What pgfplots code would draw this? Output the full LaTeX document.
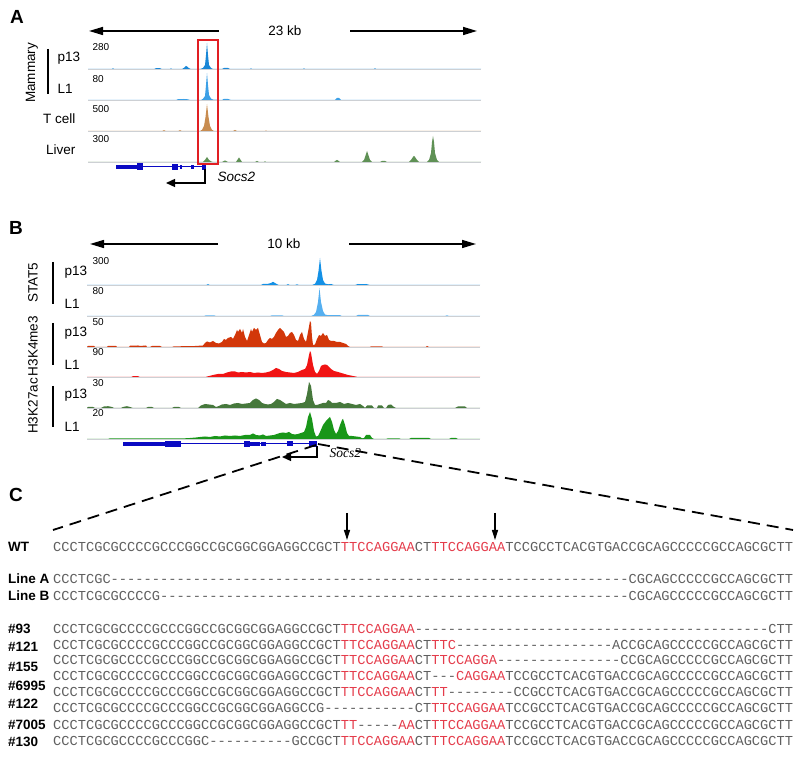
\documentclass[border=0pt]{standalone}
\usepackage{pgfplots}
\pgfplotsset{compat=1.18}
\usetikzlibrary{arrows.meta}
\usepackage{fontspec}
\setmainfont{Liberation Sans}
\setmonofont{Liberation Mono}
\newfontfamily\timesf{Liberation Serif}

\definecolor{mamA}{RGB}{25,135,215}
\definecolor{mamB}{RGB}{60,160,230}
\definecolor{tcell}{RGB}{200,140,80}
\definecolor{liver}{RGB}{95,145,85}
\definecolor{statA}{RGB}{20,145,230}
\definecolor{statB}{RGB}{85,175,240}
\definecolor{kmeA}{RGB}{210,55,10}
\definecolor{kmeB}{RGB}{240,20,20}
\definecolor{kacA}{RGB}{70,120,60}
\definecolor{kacB}{RGB}{25,150,25}
\definecolor{genec}{RGB}{10,10,195}
\definecolor{basec}{RGB}{205,208,212}
\definecolor{boxc}{RGB}{225,30,35}
\definecolor{sg}{RGB}{95,95,95}
\definecolor{sr}{RGB}{228,60,75}

\newcommand\lbl{\fontsize{13.5}{15}\selectfont}
\newcommand\num{\fontsize{10}{11}\selectfont}
\newcommand\seqf{\ttfamily\fontsize{13.7}{14}\selectfont\color{sg}}
\newcommand\R[1]{\textcolor{sr}{#1}}
\newcommand\Pf{CCCTCGCGCCCCGCCCGGCCGCGGCGGAGGCCGCT}
\newcommand\Sf{TCCGCCTCACGTGACCGCAGCCCCCGCCAGCGCTT}
\ExplSyntaxOn
\NewDocumentCommand\dashes{m}{\prg_replicate:nn{#1}{-}}
\ExplSyntaxOff

\pgfplotsset{
  trk/.style={scale only axis, axis lines=none, width=393pt, height=30pt,
    ymin=0, ymax=30, clip=false, anchor=south west},
  trkA/.style={trk, xmin=88, xmax=481},
  trkB/.style={trk, xmin=87, xmax=480},
  sig/.style={fill=#1, draw=none},
}

\begin{document}
\begin{tikzpicture}[x=1pt,y=1pt]
\path[use as bounding box] (0,0) rectangle (800,757);

% ---------------- panel A ----------------
\node[font=\fontsize{19}{20}\selectfont\bfseries] at (17,740) {A};
\draw[line width=1.5pt, -{Triangle[length=14pt,width=8pt]}] (219,726) -- (89,726);
\draw[line width=1.5pt, -{Triangle[length=14pt,width=8pt]}] (350,726) -- (477,726);
\node[font=\lbl] at (285,726) {23 kb};

% Mammary p13
\begin{axis}[trkA, at={(88pt,688pt)}]
\addplot[basec, line width=0.8pt] coordinates {(88,0) (481,0)};
\addplot[sig=mamA] coordinates {
 (88,0) (112,0) (113,0.8) (114,0) (154,0) (156,0.8) (160,0.8) (162,0) (170,0) (171,0.7)
 (172,0) (182,0) (184,1.2) (186,3) (187,2.5) (189,0.8) (191,0) (200,0) (203,1) (205,4)
 (206,14) (207,26) (208,14) (209,4) (211,1) (213,0) (222,0) (224,1) (228,1) (230,0)
 (250,0) (251,0.7) (252,0) (303,0) (304,0.7) (305,0) (374,0) (375,0.8) (376,0) (481,0)} \closedcycle;
\end{axis}
% Mammary L1
\begin{axis}[trkA, at={(88pt,657pt)}]
\addplot[basec, line width=0.8pt] coordinates {(88,0) (481,0)};
\addplot[sig=mamB] coordinates {
 (88,0) (176,0) (178,0.8) (184,1) (188,0.7) (190,0) (201,0) (203,1.2) (205,4) (206,15)
 (207,27) (208,15) (209,5) (211,1.4) (213,0.5) (222,0) (224,1.2) (228,1) (231,0) (335,0)
 (337,2) (339,2) (341,0) (481,0)} \closedcycle;
\end{axis}
% T cell
\begin{axis}[trkA, at={(88pt,626pt)}]
\addplot[basec, line width=0.8pt] coordinates {(88,0) (481,0)};
\addplot[sig=tcell] coordinates {
 (88,0) (162,0) (164,0.8) (166,0) (178,0) (180,0.8) (182,0) (200,0) (202,1.2) (204,5)
 (205.5,14) (207,27) (208.5,14) (210,5) (212,1.2) (214,0) (233,0) (235,1) (237,0) (265,0)
 (266,0.6) (267,0) (481,0)} \closedcycle;
\end{axis}
% Liver
\begin{axis}[trkA, at={(88pt,595pt)}]
\addplot[basec, line width=0.8pt] coordinates {(88,0) (481,0)};
\addplot[sig=liver] coordinates {
 (88,0) (203,0) (205,2) (207,5) (209,2) (211,0.7) (213,0) (222,0) (225,1.5) (228,0)
 (236,0) (238,3) (239,4.5) (240,3) (242,0) (255,0) (257,1) (259,0) (264,0) (265,0.8)
 (266,0) (334,0) (336,1.5) (337,2) (338,1.5) (340,0) (362,0) (364,2) (366,8) (367,11)
 (368,8) (370,2) (372,0) (380,0) (382,1) (385,1) (387,0) (409,0) (411,2) (413,5)
 (414,6) (415,5) (417,2) (419,0) (427,0) (429,2) (431,9) (432,20) (433,26) (434,20)
 (435,9) (437,2) (439,0) (481,0)} \closedcycle;
\end{axis}
% gene model A
\begin{axis}[scale only axis, axis lines=none, width=393pt, height=30pt,
  xmin=88, xmax=481, ymin=-30, ymax=0, clip=false, anchor=north west, at={(88pt,595pt)}]
\addplot[genec, line width=1pt] coordinates {(137,-5) (205,-5)};
\addplot[genec, line width=4pt] coordinates {(116,-5) (137,-5)};
\addplot[genec, line width=7pt] coordinates {(137,-5) (143,-5)};
\addplot[genec, line width=6pt] coordinates {(172,-5) (178,-5)};
\addplot[genec, line width=4pt] coordinates {(180,-5) (182,-5)};
\addplot[genec, line width=4pt] coordinates {(191,-5) (194,-5)};
\addplot[genec, line width=6pt] coordinates {(202,-5) (206,-5)};
\addplot[black, line width=1.3pt, -{Triangle[length=9pt,width=8pt]}]
  coordinates {(205,-7) (205,-21) (166,-21)};
\node[anchor=west, font=\lbl\itshape] at (axis cs:214,-15) {Socs2};
\end{axis}
\draw[boxc, line width=1.5pt] (198,593) rectangle (218,717);

\node[anchor=west, font=\num] at (89,710) {280};
\node[anchor=west, font=\num] at (89,678) {80};
\node[anchor=west, font=\num] at (89,648) {500};
\node[anchor=west, font=\num] at (89,618) {300};
\node[anchor=west, font=\lbl] at (54,699) {p13};
\node[anchor=west, font=\lbl] at (54,668) {L1};
\node[anchor=east, font=\lbl] at (79,638) {T cell};
\node[anchor=east, font=\lbl] at (79,607) {Liver};
\node[rotate=90, font=\lbl] at (32,684) {Mammary};
\draw[line width=1.2pt] (48,708) -- (48,663);

% ---------------- panel B ----------------
\node[font=\fontsize{19}{20}\selectfont\bfseries] at (16,529) {B};
\draw[line width=1.5pt, -{Triangle[length=14pt,width=8pt]}] (218,513) -- (90,513);
\draw[line width=1.5pt, -{Triangle[length=14pt,width=8pt]}] (349,513) -- (476,513);
\node[font=\lbl] at (284,513) {10 kb};

% STAT5 p13
\begin{axis}[trkB, at={(87pt,472pt)}]
\addplot[basec, line width=0.8pt] coordinates {(87,0) (480,0)};
\addplot[sig=statA] coordinates {
 (87,0) (206,0) (208,0.8) (210,0) (261,0) (263,1) (268,1.2) (271,2) (273,3.2) (275,2)
 (277,0.8) (279,0) (286,0) (288,0.8) (290,0) (295,0) (297,0.7) (299,0) (312,0) (315,1.2)
 (317,5) (318.5,14) (320,27) (321.5,14) (323,5) (325,1.5) (328,0.7) (331,1) (334,0)
 (355,0) (358,1) (362,0.8) (366,1) (370,0) (480,0)} \closedcycle;
\end{axis}
% STAT5 L1
\begin{axis}[trkB, at={(87pt,441pt)}]
\addplot[basec, line width=0.8pt] coordinates {(87,0) (480,0)};
\addplot[sig=statB] coordinates {
 (87,0) (204,0) (206,0.7) (214,0.7) (216,0) (270,0) (272,0.7) (282,0.7) (284,0) (311,0)
 (314,1.2) (316,4) (318,14) (319.5,28) (321,14) (323,5) (325,1.5) (328,0.8) (340,0.8)
 (342,0) (356,0) (358,1) (368,1) (370,0) (445,0) (447,0.7) (449,0) (480,0)} \closedcycle;
\end{axis}
% H3K4me3 p13
\begin{axis}[trkB, at={(87pt,410pt)}]
\addplot[basec, line width=0.8pt] coordinates {(87,0) (480,0)};
\addplot[sig=kmeA] coordinates {
 (87,0) (88,1) (94,1) (95,0) (107,0) (108,1) (116,1) (117,0) (129,0) (130,1.3)
 (138,1.5) (140,1) (146,1.5) (147,0) (150,0) (152,1) (160,1) (162,0) (172,0) (174,0.7)
 (190,0.8) (195,1) (203,1.5) (205,4) (207,5.5) (210,4.5) (213,6) (216,4) (219,3.5) (222,5)
 (224,8) (226,7) (228,9) (231,10) (233,8) (235,12) (237,17) (238,15) (240,18) (242,14)
 (243,18) (245,10) (247,6) (249,12) (251,18) (252,15) (254,19) (256,17) (258,19) (260,12)
 (262,5) (264,3.5) (266,4) (268,7) (270,9) (272,8) (274,10) (276,14) (278,17) (280,19)
 (282,17) (284,15) (286,10) (288,11) (290,14) (292,15) (294,12) (296,7) (298,6) (300,12)
 (302,15) (304,8) (306,5) (308,15) (310,26) (311,24) (312,10) (313,2) (315,2.5) (317,8)
 (319,12) (321,11) (323,14) (325,11) (327,12) (329,7) (331,6) (334,6) (337,5) (340,5)
 (343,4) (346,3) (348,1) (350,0) (370,0) (371,0.7) (382,0.7) (383,0) (426,0) (427,1)
 (429,0) (480,0)} \closedcycle;
\end{axis}
% H3K4me3 L1
\begin{axis}[trkB, at={(87pt,380pt)}]
\addplot[basec, line width=0.8pt] coordinates {(87,0) (480,0)};
\addplot[sig=kmeB] coordinates {
 (87,0) (131,0) (133,0.8) (138,0.8) (140,0) (205,0) (208,0.7) (213,2) (218,3) (223,3)
 (227,4.5) (231,5.5) (235,5.5) (238,4.5) (242,5) (246,4.5) (250,5) (254,4) (258,4.5)
 (262,4) (266,4.5) (270,5.5) (273,7) (276,9) (279,8) (282,6) (286,5) (290,4.5) (294,4)
 (298,5) (302,7) (305,8) (307,12) (309,22) (310,26) (311,24) (313,12) (315,5) (317,3)
 (319,6) (321,11) (323,12) (325,12.5) (327,12) (329,10) (331,8) (334,6) (338,5) (343,3.5)
 (348,2) (353,1) (358,0) (480,0)} \closedcycle;
\end{axis}
% H3K27ac p13
\begin{axis}[trkB, at={(87pt,349pt)}]
\addplot[basec, line width=0.8pt] coordinates {(87,0) (480,0)};
\addplot[sig=kacA] coordinates {
 (87,0) (88,1) (93,1) (95,0) (101,0) (104,1.5) (108,1.8) (112,1) (114,0) (121,0)
 (123,1) (127,1.8) (131,0.7) (133,0) (146,0) (148,1) (152,1) (154,0) (172,0) (174,1)
 (179,1) (181,0) (198,0) (201,2.5) (205,4) (209,3.5) (213,3) (216,1) (219,2) (222,3.5)
 (226,4) (230,3) (234,4.5) (238,5) (242,4) (246,4.5) (250,5) (253,8) (256,9.5) (259,8)
 (262,5) (265,4) (268,3.5) (271,4) (274,6) (277,9) (280,8) (283,6) (286,4) (290,5)
 (294,4) (298,4.5) (302,5) (305,6) (307,14) (309,26) (311,22) (313,8) (315,3) (317,3)
 (320,4) (323,5) (326,5) (328,8) (330,7) (332,5) (336,5) (340,6) (344,4) (348,5)
 (352,4) (356,3) (360,4) (363,2) (365,0) (367,2.5) (372,2.5) (374,0) (377,0) (378,2.5)
 (382,2.5) (384,0) (386,0) (388,3) (391,3.5) (394,1) (396,0) (455,0) (458,1.5) (465,1.5)
 (467,0) (480,0)} \closedcycle;
\end{axis}
% H3K27ac L1
\begin{axis}[trkB, at={(87pt,318pt)}]
\addplot[basec, line width=0.8pt] coordinates {(87,0) (480,0)};
\addplot[sig=kacB] coordinates {
 (87,0) (108,0) (110,0.7) (185,0.7) (190,1) (196,1.5) (200,2) (205,2.5) (210,2) (215,3)
 (220,2.5) (225,3.5) (230,3) (235,3.5) (240,3) (245,4) (250,4) (253,5.5) (256,4) (260,3.5)
 (263,4.5) (266,3) (270,3.5) (274,4) (277,5) (280,6) (283,6.5) (286,6) (289,7) (292,5)
 (295,4.5) (298,5) (301,6) (304,7) (306,12) (308,22) (310,27) (312,20) (314,8) (316,2.5)
 (318,3) (320,7) (323,14) (326,18) (328,20) (330,22) (332,17) (334,9) (336,5) (338,8)
 (340,14) (342,19) (343,20) (345,14) (347,6) (349,3) (352,3) (356,2.5) (360,2) (362,0.7)
 (364,1) (366,4) (370,4) (372,1) (374,0) (386,0) (388,0.7) (399,0.7) (401,0) (409,0)
 (411,1) (429,1) (431,0) (449,0) (451,1) (456,1) (458,0) (480,0)} \closedcycle;
\end{axis}
% gene model B
\begin{axis}[scale only axis, axis lines=none, width=393pt, height=30pt,
  xmin=87, xmax=480, ymin=-30, ymax=0, clip=false, anchor=north west, at={(87pt,318pt)}]
\addplot[genec, line width=1pt] coordinates {(181,-5) (317,-5)};
\addplot[genec, line width=4pt] coordinates {(123,-5) (165,-5)};
\addplot[genec, line width=6pt] coordinates {(165,-5) (181,-5)};
\addplot[genec, line width=6pt] coordinates {(244,-5) (250,-5)};
\addplot[genec, line width=4pt] coordinates {(250,-5) (260,-5)};
\addplot[genec, line width=4pt] coordinates {(261,-5) (266,-5)};
\addplot[genec, line width=5pt] coordinates {(287,-5) (293,-5)};
\addplot[genec, line width=6pt] coordinates {(309,-5) (317,-5)};
\addplot[black, line width=1.3pt, -{Triangle[length=9pt,width=8pt]}]
  coordinates {(317,-7) (317,-18) (282,-18)};
\node[anchor=west, font=\lbl\timesf\itshape] at (axis cs:326,-14) {Socs2};
\end{axis}

\node[anchor=west, font=\num] at (89,496) {300};
\node[anchor=west, font=\num] at (89,466) {80};
\node[anchor=west, font=\num] at (89,435) {50};
\node[anchor=west, font=\num] at (89,405) {90};
\node[anchor=west, font=\num] at (89,374) {30};
\node[anchor=west, font=\num] at (89,344) {20};
\foreach \yy/\tt in {485/p13, 453/L1, 424/p13, 392/L1, 362/p13, 330/L1}
  \node[anchor=west, font=\lbl] at (61,\yy) {\tt};
\node[rotate=90, font=\lbl] at (33,474) {STAT5};
\node[rotate=90, font=\lbl] at (33,411) {H3K4me3};
\node[rotate=90, font=\lbl] at (33,351) {H3K27ac};
\draw[line width=1.2pt] (53,495) -- (53,453);
\draw[line width=1.2pt] (53,434) -- (53,392);
\draw[line width=1.2pt] (53,371) -- (53,330);

% zoom lines
\draw[line width=1.8pt, dash pattern=on 12pt off 7pt] (316,312) -- (53,227);
\draw[line width=1.8pt, dash pattern=on 12pt off 7pt] (318,313) -- (793,227);

% ---------------- panel C ----------------
\node[font=\fontsize{19}{20}\selectfont\bfseries] at (16,262) {C};
\draw[line width=1.2pt, -{Triangle[length=10pt,width=6pt]}] (347,244) -- (347,217);
\draw[line width=1.2pt, -{Triangle[length=10pt,width=6pt]}] (495,244) -- (495,217);

\tikzset{rl/.style={anchor=west, inner sep=0pt, font=\lbl\bfseries},
  sq/.style={anchor=base west, inner sep=0pt, font=\seqf}}
\node[rl] at (8,210) {WT};
\node[rl] at (8,178) {Line A};
\node[rl] at (8,161) {Line B};
\node[rl] at (8,128) {\#93};
\node[rl] at (8,110) {\#121};
\node[rl] at (8,90) {\#155};
\node[rl] at (8,71) {\#6995};
\node[rl] at (8,53) {\#122};
\node[rl] at (8,32) {\#7005};
\node[rl] at (8,15) {\#130};

\node[sq] at (53,205.5) {\Pf\R{TTCCAGGAA}CT\R{TTCCAGGAA}\Sf};
\node[sq] at (53,173.5) {CCCTCGC\dashes{63}CGCAGCCCCCGCCAGCGCTT};
\node[sq] at (53,156.5) {CCCTCGCGCCCCG\dashes{57}CGCAGCCCCCGCCAGCGCTT};
\node[sq] at (53,123.5) {\Pf\R{TTCCAGGAA}\dashes{43}CTT};
\node[sq] at (53,107.5) {\Pf\R{TTCCAGGAA}CT\R{TTC}\dashes{19}ACCGCAGCCCCCGCCAGCGCTT};
\node[sq] at (53,92.5) {\Pf\R{TTCCAGGAA}CT\R{TTCCAGGA}\dashes{15}CCGCAGCCCCCGCCAGCGCTT};
\node[sq] at (53,76.5) {\Pf\R{TTCCAGGAA}CT\dashes{3}\R{CAGGAA}\Sf};
\node[sq] at (53,60.5) {\Pf\R{TTCCAGGAA}CT\R{TT}\dashes{8}CCGCCTCACGTGACCGCAGCCCCCGCCAGCGCTT};
\node[sq] at (53,44.5) {CCCTCGCGCCCCGCCCGGCCGCGGCGGAGGCCG\dashes{11}CT\R{TTCCAGGAA}\Sf};
\node[sq] at (53,27.5) {\Pf\R{TT}\dashes{5}\R{AA}CT\R{TTCCAGGAA}\Sf};
\node[sq] at (53,11.5) {CCCTCGCGCCCCGCCCGGC\dashes{10}GCCGCT\R{TTCCAGGAA}CT\R{TTCCAGGAA}\Sf};
\end{tikzpicture}
\end{document}
